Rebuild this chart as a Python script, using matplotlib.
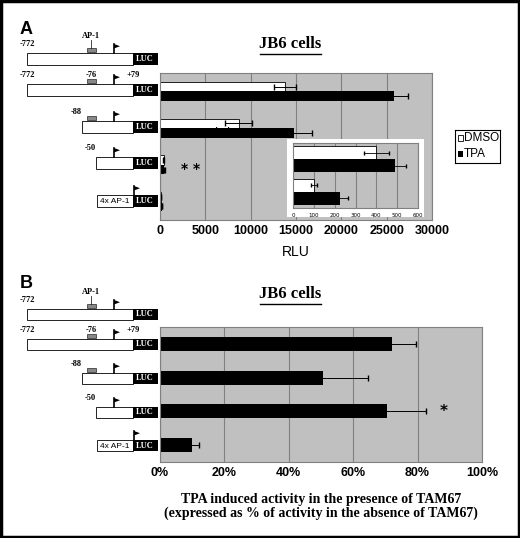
import numpy as np
import matplotlib.pyplot as plt
from matplotlib.patches import Rectangle, Polygon

# panel A data (RLU)
dmso = [13800, 8700, 400, 100]
dmso_err = [1200, 1500, 60, 15]
tpa = [25800, 14800, 490, 225]
tpa_err = [1500, 2000, 50, 40]
# panel B data (% activity)
tam = [72, 50.5, 70.5, 10]
tam_err = [7.5, 14, 12, 2]

W, H = 520, 538
fig = plt.figure(figsize=(W / 100, H / 100), dpi=100)
fig.patch.set_facecolor("white")
serif = "Liberation Serif"
sans = "Liberation Sans"


def ax_px(x0, y0, x1, y1):
    # pixel box (top-left origin) -> axes
    return fig.add_axes([x0 / W, 1 - y1 / H, (x1 - x0) / W, (y1 - y0) / H])


def style(ax):
    ax.set_facecolor("#c0c0c0")
    ax.grid(axis="x", color="#808080", lw=0.8)
    ax.set_axisbelow(True)
    for s in ax.spines.values():
        s.set_color("#808080")
    ax.tick_params(axis="y", left=False, labelleft=False)
    ax.tick_params(axis="x", length=0, labelsize=9)


# ---- panel A
ys = np.arange(4)
h = 0.26
axA = ax_px(160, 73, 432, 220)
style(axA)
axA.barh(ys - h / 2, dmso, h, color="white", edgecolor="black", lw=0.6,
         xerr=dmso_err, error_kw=dict(lw=0.7, capsize=2))
axA.barh(ys + h / 2, tpa, h, color="black", xerr=tpa_err, error_kw=dict(lw=0.7, capsize=2))
axA.set_xlim(0, 30000)
axA.set_ylim(3.5, -0.5)
axA.set_xticks(range(0, 30001, 5000))
for lab in axA.get_xticklabels():
    lab.set_fontweight("bold")
    lab.set_family(sans)
axA.set_xlabel("RLU", fontsize=10, family=sans, labelpad=6)
axA.text(5900, 1.14, "* *", fontsize=10, fontweight="bold", va="center")
axA.text(2300, 2.1, "* *", fontsize=10, fontweight="bold", va="center")

# inset
bg = ax_px(287, 139, 424, 217)
bg.set_facecolor("white")
bg.set_xticks([]); bg.set_yticks([])
for s in bg.spines.values():
    s.set_visible(False)
axI = ax_px(293, 143, 418, 208)
style(axI)
yi = np.arange(2)
hi = 0.4
axI.barh(yi - hi / 2, dmso[2:], hi, color="white", edgecolor="black", lw=0.6,
         xerr=dmso_err[2:], error_kw=dict(lw=0.6, capsize=1.5))
axI.barh(yi + hi / 2, tpa[2:], hi, color="black", xerr=tpa_err[2:],
         error_kw=dict(lw=0.6, capsize=1.5))
axI.set_xlim(0, 600)
axI.set_ylim(1.5, -0.5)
axI.set_xticks(range(0, 601, 100))
axI.tick_params(axis="x", labelsize=4)

# legend
lg = ax_px(455, 130, 500, 163)
lg.set_xlim(0, 45); lg.set_ylim(33, 0)
lg.set_xticks([]); lg.set_yticks([])
lg.add_patch(Rectangle((3, 5), 5, 6, fc="white", ec="black", lw=0.6))
lg.add_patch(Rectangle((3, 21), 5, 6, fc="black"))
lg.text(9, 8.5, "DMSO", fontsize=8.5, family=sans, va="center")
lg.text(9, 24, "TPA", fontsize=8.5, family=sans, va="center")

# ---- panel B
axB = ax_px(160, 327, 482, 462)
style(axB)
axB.barh(ys, tam, 0.42, color="black", xerr=tam_err, error_kw=dict(lw=0.7, capsize=2))
axB.set_xlim(0, 100)
axB.set_ylim(3.5, -0.5)
axB.set_xticks(range(0, 101, 20))
axB.set_xticklabels([f"{v}%" for v in range(0, 101, 20)], fontweight="bold", family=sans)
axB.set_xlabel("TPA induced activity in the presence of TAM67\n(expressed as % of activity in the absence of TAM67)",
               fontsize=10, family=serif, fontweight="bold", labelpad=10, linespacing=1.1)
axB.text(88, 2, "*", fontsize=11, fontweight="bold", ha="center", va="center")

# ---- overlay: schematics, titles, border
ov = fig.add_axes([0, 0, 1, 1], zorder=-1)
ov.set_xlim(0, W); ov.set_ylim(H, 0); ov.axis("off")
ov.add_patch(Rectangle((1, 1), W - 2, H - 2, fill=False, ec="black", lw=2.5))


def flag(x, ytop):
    ov.plot([x, x], [ytop, ytop + 9], color="black", lw=1.2)
    ov.add_patch(Polygon([(x, ytop), (x + 6, ytop + 2.2), (x, ytop + 4.5)], fc="black"))


def construct(y0, hgt, start, label, ap1=True, top=None, four=False):
    ov.add_patch(Rectangle((start, y0), 133 - start, hgt, fc="white", ec="black", lw=0.6))
    ov.add_patch(Rectangle((133, y0), 25, hgt, fc="black"))
    ov.text(145, y0 + hgt / 2, "LUC", color="white", fontsize=6, family=serif,
            fontweight="bold", ha="center", va="center")
    if four:
        ov.text(115, y0 + hgt / 2 + 0.5, "4x AP-1", fontsize=6, family=sans, ha="center", va="center")
        flag(134, y0 - 9)
        return
    flag(114, y0 - 9)
    if ap1:
        ov.add_patch(Rectangle((87, y0 - 5), 9, 4, fc="#888888", ec="black", lw=0.4))
    if label:
        ov.text(start, y0 - 7, label, fontsize=6, family=serif, fontweight="bold",
                ha="center" if start < 40 else "right")
    if top == "ap1":
        ov.text(91, y0 - 15, "AP-1", fontsize=6, family=serif, fontweight="bold", ha="center")
        ov.plot([91, 91], [y0 - 13, y0 - 5], color="black", lw=0.5)
    elif top == "pos":
        ov.text(91, y0 - 7, "-76", fontsize=6, family=serif, fontweight="bold", ha="center")
        ov.text(133, y0 - 7, "+79", fontsize=6, family=serif, fontweight="bold", ha="center")


for ya, yb_ in [((53, 84, 121, 157, 195), "A"), ((309, 339, 373, 407, 440), "B")]:
    hgt = 11 if yb_ == "B" else 12
    construct(ya[0], hgt, 27, "-772", top="ap1")
    construct(ya[1], hgt, 27, "-772", top="pos")
    construct(ya[2], hgt, 82, "-88")
    construct(ya[3], hgt, 96, "-50", ap1=False)
    construct(ya[4], hgt, 97, None, four=True)

for yy, letter, ty in [(30, "A", 52), (283, "B", 302)]:
    ov.text(20, yy, letter, fontsize=13, family=sans, fontweight="bold", va="center")
    t = ov.text(290, ty, "JB6 cells", fontsize=12, family=serif, fontweight="bold",
                ha="center", va="bottom")
    ov.plot([260, 321], [ty + 1.5, ty + 1.5], color="black", lw=1)

fig.savefig("out.png", dpi=100)
